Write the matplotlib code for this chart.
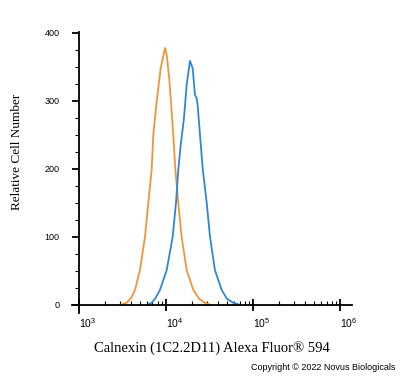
import matplotlib
matplotlib.use("Agg")
import matplotlib.pyplot as plt
from matplotlib.ticker import FixedLocator, NullFormatter

# Data
orange_x = [2950, 3530, 3980, 4410, 5020, 5740, 6270, 6840, 7150, 7820, 8690, 9750,
            10190, 10910, 11400, 12130, 12790, 13840, 15140, 17300, 20610, 23990,
            28050, 32360]
orange_y = [0, 3, 10, 22, 51, 100, 150, 198, 250, 299, 348, 378,
            368, 333, 299, 250, 201, 150, 100, 51, 22, 9, 3, 0]

blue_x = [6030, 6840, 7590, 8530, 10190, 11940, 13030, 13840, 14760, 16110, 17300,
          18880, 20280, 21530, 22540, 23120, 24600, 26420, 29380, 32060, 36560,
          43650, 50120, 59430, 70800]
blue_y = [0, 3, 10, 22, 51, 100, 150, 198, 235, 275, 324,
          359, 348, 309, 304, 294, 250, 201, 150, 100, 51,
          22, 9, 3, 0]

y_ticks = [0, 100, 200, 300, 400]
x_ticks = [1e3, 1e4, 1e5, 1e6]
x_tick_labels = ["$10^{3}$", "$10^{4}$", "$10^{5}$", "$10^{6}$"]

plt.rcParams["mathtext.fontset"] = "custom"
plt.rcParams["mathtext.rm"] = "Liberation Sans"
plt.rcParams["mathtext.it"] = "Liberation Sans"

fig = plt.figure(figsize=(4.0, 3.78), dpi=100)
ax = fig.add_axes([0.18, 0.172, 0.70, 0.7407])

ax.plot(orange_x, orange_y, color="#F0953A", lw=1.3)
ax.plot(blue_x, blue_y, color="#2F86D8", lw=1.3)

ax.set_xscale("log")
ax.set_xlim(10 ** 2.92, 10 ** 6.138)
ax.set_ylim(-12, 400)

for s in ["top", "right"]:
    ax.spines[s].set_visible(False)
ax.spines["left"].set_position(("data", 1000))
ax.spines["bottom"].set_position(("data", 0))
ax.spines["left"].set_bounds(-12, 402)
ax.spines["left"].set_linewidth(1.3)
ax.spines["bottom"].set_linewidth(1.3)

ax.yaxis.set_major_locator(FixedLocator(y_ticks))
ax.yaxis.set_minor_locator(FixedLocator([v for v in range(25, 400, 25) if v % 100]))
ax.tick_params(axis="y", which="major", direction="out", length=5, width=1.3,
               labelsize=6.5, pad=9)
ax.tick_params(axis="y", which="minor", direction="out", length=3, width=0.8)
for lab in ax.get_yticklabels():
    lab.set_family("Liberation Sans")

minor = [m * 10 ** e for e in range(3, 6) for m in range(2, 10)]
ax.xaxis.set_major_locator(FixedLocator(x_ticks))
ax.xaxis.set_minor_locator(FixedLocator(minor))
ax.xaxis.set_minor_formatter(NullFormatter())
ax.set_xticklabels(x_tick_labels)
ax.tick_params(axis="x", which="major", direction="inout", length=9, width=1.3,
               labelsize=7.5, pad=4)
ax.tick_params(axis="x", which="minor", direction="in", length=3, width=0.8)
for lab in ax.get_xticklabels():
    lab.set_horizontalalignment("left")

ax.set_xlabel("Calnexin (1C2.2D11) Alexa Fluor\u00ae 594", family="Liberation Serif",
              fontsize=10.5)
ax.xaxis.set_label_coords(0.5, -0.1)
ax.set_ylabel("Relative Cell Number", family="Liberation Serif", fontsize=9.5)
ax.yaxis.set_label_coords(-0.175, 0.575)

fig.text(0.988, 0.027, "Copyright \u00a9 2022 Novus Biologicals", ha="right",
         va="center", family="Liberation Sans", fontsize=6.5)

fig.savefig("out.png", dpi=100, facecolor="white")
